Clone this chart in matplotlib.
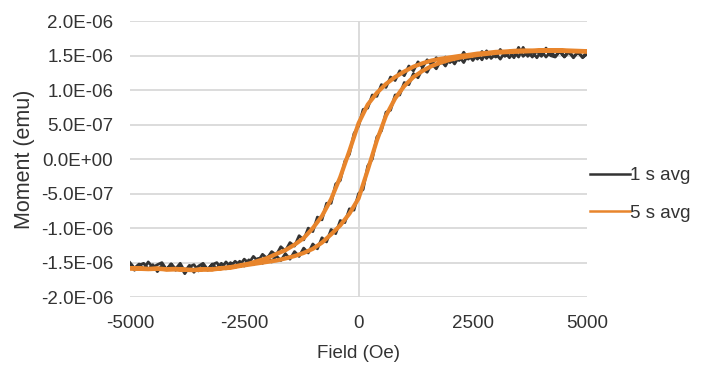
import numpy as np
import matplotlib
matplotlib.use("Agg")
import matplotlib.pyplot as plt
from matplotlib.lines import Line2D

plt.rcParams['font.family'] = ['Liberation Sans', 'DejaVu Sans']
plt.rcParams['axes.unicode_minus'] = False

# field sweeps (Oe)
field_1s = np.arange(-5000, 5001, 100)
field_5s = np.arange(-5000, 5001, 200)

# moment in units of 1e-7 emu, both branches listed in order of increasing field
# 1 s averaging: descending-field (upper) branch
upper_1s = [
    -15.0, -15.8, -15.2, -16.0, -14.9, -15.7, -15.3, -15.0, -16.0, -15.2,
    -15.9, -15.1, -16.3, -15.4, -16.4, -15.5, -15.1, -16.0, -15.3, -15.0,
    -15.9, -14.9, -15.6, -14.8, -15.4, -14.5, -15.1, -14.1, -14.8, -13.8,
    -14.4, -13.4, -13.9, -12.7, -13.3, -12.1, -12.6, -11.1, -11.7, -10.0,
    -10.5, -8.4, -8.8, -6.4, -6.4, -3.6, -3.1, -0.3, 0.7, 3.7,
    4.8, 7.2, 7.4, 9.3, 9.1, 10.8, 10.4, 11.9, 11.4, 12.8,
    12.1, 13.5, 12.8, 14.1, 13.3, 14.4, 13.7, 14.7, 13.9, 14.8,
    14.0, 14.9, 14.3, 15.5, 14.5, 15.2, 14.5, 15.6, 14.6, 15.4,
    14.8, 15.9, 14.9, 15.5, 14.7, 16.2, 14.9, 15.6, 14.8, 15.7,
    14.9, 16.1, 15.0, 14.8, 15.6, 14.9, 15.7, 14.8, 15.5, 14.7,
    15.3,
]
# 1 s averaging: ascending-field (lower) branch
lower_1s = [
    -15.2, -16.1, -15.4, -15.1, -16.0, -15.3, -16.3, -15.4, -16.0, -15.2,
    -16.1, -15.5, -16.6, -15.6, -15.3, -16.2, -15.5, -16.1, -15.2, -15.9,
    -15.1, -15.9, -15.0, -15.7, -14.8, -15.5, -14.6, -15.3, -14.4, -15.1,
    -14.2, -14.9, -14.0, -14.7, -13.7, -14.5, -13.4, -14.1, -12.9, -13.6,
    -12.3, -13.0, -11.4, -12.0, -10.2, -10.8, -8.9, -9.2, -7.2, -7.4,
    -5.0, -4.4, -1.0, 0.0, 3.2, 4.1, 6.8, 7.1, 9.3, 9.3,
    11.1, 10.8, 12.4, 11.8, 13.1, 12.6, 13.8, 13.1, 14.3, 13.5,
    14.7, 13.8, 14.9, 14.0, 15.2, 14.3, 15.3, 14.4, 15.7, 14.6,
    15.3, 14.5, 15.5, 14.7, 15.6, 14.8, 16.2, 14.9, 15.6, 14.7,
    15.7, 14.8, 15.6, 14.9, 15.7, 14.8, 15.5, 14.7, 15.6, 14.8,
    15.5,
]

# 5 s averaging
upper_5s = [
    -15.8, -15.8, -15.9, -15.85, -15.95, -15.9, -16.0, -16.05, -15.95, -15.95,
    -15.8, -15.65, -15.4, -15.15, -14.75, -14.35, -13.75, -13.2, -12.4, -11.45,
    -10.0, -8.25, -5.8, -2.6, 1.2, 5.2, 7.9, 9.6, 10.9, 11.9,
    12.7, 13.4, 13.9, 14.3, 14.55, 14.75, 14.95, 15.1, 15.3, 15.4,
    15.55, 15.6, 15.7, 15.75, 15.75, 15.8, 15.8, 15.8, 15.75, 15.7,
    15.65,
]
lower_5s = [
    -15.85, -15.9, -15.95, -15.9, -16.0, -16.0, -16.05, -16.1, -16.0, -16.0,
    -15.85, -15.75, -15.5, -15.3, -15.1, -14.9, -14.7, -14.4, -14.05, -13.6,
    -13.0, -12.1, -10.9, -9.6, -7.9, -5.7, -1.6, 2.7, 6.3, 8.8,
    10.6, 11.9, 12.8, 13.5, 14.0, 14.4, 14.7, 14.9, 15.1, 15.25,
    15.4, 15.5, 15.55, 15.6, 15.65, 15.7, 15.7, 15.7, 15.65, 15.6,
    15.6,
]

y_ticks = [-2e-6, -1.5e-6, -1e-6, -5e-7, 0, 5e-7, 1e-6, 1.5e-6, 2e-6]
y_tick_labels = ["-2.0E-06", "-1.5E-06", "-1.0E-06", "-5.0E-07", "0.0E+00",
                 "5.0E-07", "1.0E-06", "1.5E-06", "2.0E-06"]
x_ticks = [-5000, -2500, 0, 2500, 5000]

series = [
    ("1 s avg", field_1s, lower_1s, upper_1s, "#333333", 2.0),
    ("5 s avg", field_5s, lower_5s, upper_5s, "#e8852c", 3.0),
]

text_color = "#333333"
fs = 13.5

fig = plt.figure(figsize=(7.1, 3.65), dpi=100)
ax = fig.add_axes([0.183, 0.186, 0.644, 0.756])

handles = []
for label, h, lower, upper, color, lw in series:
    # full loop: up the lower branch, back down the upper one
    x = np.concatenate([h, h[::-1]])
    y = np.concatenate([lower, upper[::-1]]) * 1e-7
    ax.plot(x, y, color=color, lw=lw, zorder=3, solid_joinstyle="round")
    handles.append(Line2D([], [], color=color, lw=1.8, label=label))

ax.set_xlim(-5000, 5000)
ax.set_ylim(-2e-6, 2e-6)
ax.set_xticks(x_ticks)
ax.set_xticklabels([str(v) for v in x_ticks])
ax.set_yticks(y_ticks)
ax.set_yticklabels(y_tick_labels)
ax.yaxis.grid(True, color="#d9d9d9", lw=1.3)
ax.set_axisbelow(True)
ax.axvline(0, color="#d9d9d9", lw=1.3, zorder=1)
for s in ax.spines.values():
    s.set_visible(False)
ax.tick_params(length=0, labelsize=fs, colors=text_color)
ax.tick_params(axis="x", pad=13)
ax.tick_params(axis="y", pad=12)
ax.set_xlabel("Field (Oe)", fontsize=fs, color=text_color, labelpad=9)
ax.set_ylabel("Moment (emu)", fontsize=15.5, color=text_color, labelpad=4)

fig.legend(handles=handles, loc="center left", bbox_to_anchor=(0.831, 0.467),
           frameon=False, fontsize=fs, handlelength=2.15, handletextpad=0.0,
           labelspacing=1.09, borderpad=0, borderaxespad=0,
           labelcolor=text_color)

fig.savefig("out.png", dpi=100)
